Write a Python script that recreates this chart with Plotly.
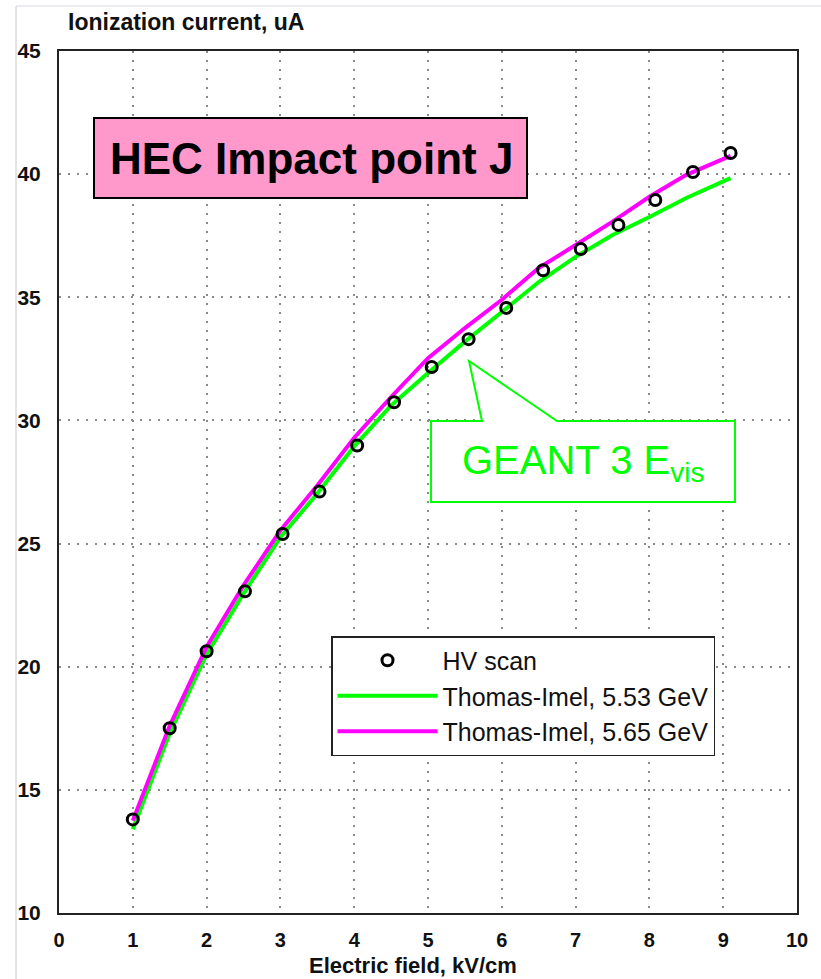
import plotly.graph_objects as go

# ---- data ----
scan_x = [1.0, 1.5, 2.0, 2.52, 3.03, 3.53, 4.04, 4.54, 5.05, 5.55, 6.06, 6.56, 7.07, 7.58, 8.08, 8.59, 9.1]
scan_y = [13.8, 17.5, 20.63, 23.06, 25.39, 27.11, 28.98, 30.74, 32.17, 33.3, 34.57, 36.1, 36.96, 37.94, 38.95, 40.09, 40.86]

model_x = [1.0, 1.5, 2.0, 2.5, 3.0, 3.5, 4.0, 4.5, 5.0, 5.5, 6.0, 6.5, 7.0, 7.5, 8.0, 8.5, 9.1]
ti_553 = [13.4, 17.3, 20.5, 22.97, 25.26, 27.03, 28.95, 30.61, 31.93, 33.2, 34.4, 35.62, 36.64, 37.53, 38.26, 39.03, 39.84]
ti_565 = [13.75, 17.6, 20.8, 23.3, 25.53, 27.36, 29.3, 30.95, 32.53, 33.75, 34.9, 36.19, 37.12, 38.07, 39.08, 39.97, 40.74]

x_ticks = [0, 1, 2, 3, 4, 5, 6, 7, 8, 9, 10]
y_ticks = [10, 15, 20, 25, 30, 35, 40, 45]

W, H = 821, 979
ML, MR, MT, MB = 59, 24, 51, 66
PW, PH = W - ML - MR, H - MT - MB


def px(x):
    return (x - ML) / PW


def py(y):
    return 1 - (y - MT) / PH


FONT = "Liberation Sans, Arial, sans-serif"

fig = go.Figure()
fig.add_trace(go.Scatter(x=model_x, y=ti_553, mode="lines", name="Thomas-Imel, 5.53 GeV",
                         line=dict(color="#00FF00", width=4), legendrank=2))
fig.add_trace(go.Scatter(x=model_x, y=ti_565, mode="lines", name="Thomas-Imel, 5.65 GeV",
                         line=dict(color="#FF00FF", width=4), legendrank=3))
fig.add_trace(go.Scatter(x=scan_x, y=scan_y, mode="markers", name="HV scan",
                         marker=dict(symbol="circle-open", size=11, color="black",
                                     line=dict(width=3, color="black")),
                         legendrank=1))

callout = [(431, 421), (482, 421), (469, 361), (557, 421), (735, 421), (735, 502), (431, 502)]
path = "M " + " L ".join(f"{px(a):.5f},{py(b):.5f}" for a, b in callout) + " Z"

shapes = [
    dict(type="rect", xref="paper", yref="paper", x0=px(94), x1=px(527), y0=py(198), y1=py(118),
         fillcolor="#FF99CC", line=dict(color="black", width=2), layer="above"),
    dict(type="path", xref="paper", yref="paper", path=path, fillcolor="white",
         line=dict(color="#00FF00", width=2), layer="above"),
    dict(type="line", xref="paper", yref="paper", x0=px(16), x1=px(16), y0=py(6), y1=py(979),
         line=dict(color="#C8C8C8", width=1)),
    dict(type="line", xref="paper", yref="paper", x0=px(16), x1=px(821), y0=py(6), y1=py(6),
         line=dict(color="#D8D8E8", width=1)),
]

annotations = [
    dict(text="<b>HEC Impact point J</b>", xref="paper", yref="paper", x=px(311), y=py(158),
         xanchor="center", yanchor="middle", showarrow=False,
         font=dict(family=FONT, size=44, color="black")),
    dict(text="GEANT 3 E<sub>vis</sub>", xref="paper", yref="paper", x=px(583), y=py(463),
         xanchor="center", yanchor="middle", showarrow=False,
         font=dict(family=FONT, size=40, color="#00FF00")),
    dict(text="<b>Ionization current, uA</b>", xref="paper", yref="paper", x=px(66), y=py(22),
         xanchor="left", yanchor="middle", showarrow=False,
         font=dict(family=FONT, size=23, color="#111")),
    dict(text="<b>Electric field, kV/cm</b>", xref="paper", yref="paper", x=px(413), y=py(966),
         xanchor="center", yanchor="middle", showarrow=False,
         font=dict(family=FONT, size=22, color="#111")),
]

fig.update_layout(
    width=W, height=H,
    margin=dict(l=ML, r=MR, t=MT, b=MB, pad=0),
    paper_bgcolor="white", plot_bgcolor="white",
    font=dict(family=FONT, color="#111"),
    shapes=shapes, annotations=annotations,
    legend=dict(x=px(331), y=py(636), xanchor="left", yanchor="top",
                bgcolor="white", bordercolor="#222", borderwidth=1.5,
                font=dict(family=FONT, size=25, color="#111"),
                itemwidth=100),
    showlegend=True,
)
fig.update_xaxes(range=[0, 10], tickvals=x_ticks, ticktext=[str(v) for v in x_ticks],
                 showgrid=True, gridcolor="#8a8a8a", griddash="2px,7px", gridwidth=1.5,
                 showline=True, mirror=True, linecolor="#222", linewidth=2,
                 ticks="", zeroline=False, ticklabelstandoff=8,
                 tickfont=dict(family=FONT, size=20, color="#111", weight="bold"))
fig.update_yaxes(range=[10, 45], tickvals=y_ticks, ticktext=[str(v) for v in y_ticks],
                 showgrid=True, gridcolor="#8a8a8a", griddash="2px,7px", gridwidth=1.5,
                 showline=True, mirror=True, linecolor="#222", linewidth=2,
                 ticks="", zeroline=False, ticklabelstandoff=12,
                 tickfont=dict(family=FONT, size=21, color="#111", weight="bold"))

fig.write_html("out.html")
